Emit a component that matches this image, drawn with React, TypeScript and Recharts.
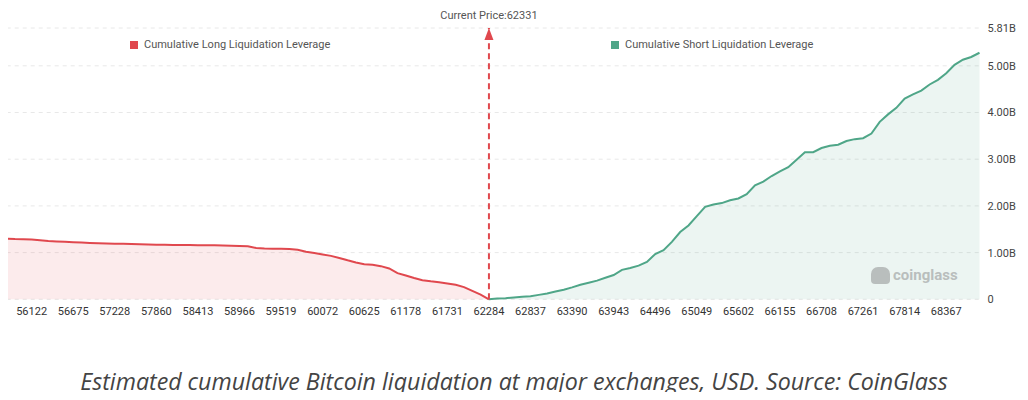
import { Area, AreaChart, CartesianGrid, ReferenceLine, XAxis, YAxis } from "recharts";

// cumulative liquidation leverage, in billions of USD
const longValues = [
  1.3, 1.29, 1.285, 1.28, 1.265, 1.25, 1.24, 1.23, 1.222, 1.215, 1.207, 1.2, 1.195, 1.19, 1.187,
  1.184, 1.18, 1.173, 1.168, 1.166, 1.164, 1.163, 1.161, 1.159, 1.157, 1.156, 1.152, 1.148, 1.143,
  1.135, 1.1, 1.09, 1.085, 1.08, 1.075, 1.06, 1.02, 0.99, 0.96, 0.93, 0.885, 0.835, 0.79, 0.75,
  0.74, 0.71, 0.66, 0.56, 0.51, 0.455, 0.41, 0.385, 0.365, 0.34, 0.31, 0.26, 0.18, 0.1, 0,
];

const shortValues = [
  0, 0.015, 0.025, 0.04, 0.055, 0.067, 0.095, 0.125, 0.165, 0.205, 0.255, 0.31, 0.355, 0.4, 0.46,
  0.52, 0.63, 0.67, 0.72, 0.8, 0.97, 1.05, 1.23, 1.44, 1.58, 1.78, 1.98, 2.03, 2.06, 2.12, 2.16,
  2.25, 2.44, 2.52, 2.64, 2.74, 2.83, 2.99, 3.15, 3.15, 3.24, 3.29, 3.31, 3.39, 3.43, 3.45, 3.55,
  3.8, 3.96, 4.1, 4.3, 4.39, 4.47, 4.6, 4.7, 4.84, 5.02, 5.13, 5.19, 5.28,
];

const priceTicks = [
  "56122", "56675", "57228", "57860", "58413", "58966", "59519", "60072", "60625", "61178",
  "61731", "62284", "62837", "63390", "63943", "64496", "65049", "65602", "66155", "66708",
  "67261", "67814", "68367",
];

const yTicks = [0, 1, 2, 3, 4, 5, 5.81];
const currentPrice = 62331;

const RED = "#e0484e";
const GREEN = "#4fa688";
const FONT = "Roboto, sans-serif";

// the short side starts where the long side ends (at the current price)
const splitIndex = longValues.length - 1;
const total = splitIndex + shortValues.length;
const firstTick = 3;
const tickStep = 5;

const data = Array.from({ length: total }, (_, i) => ({
  idx: i,
  long: i <= splitIndex ? longValues[i] : null,
  short: i >= splitIndex ? shortValues[i - splitIndex] : null,
}));

const tickLabel = (i: number) => {
  const k = i - firstTick;
  if (k < 0 || k % tickStep !== 0) return "";
  return priceTicks[k / tickStep] ?? "";
};

function PriceLabel({ viewBox }: any) {
  const { x, y } = viewBox;
  return (
    <g>
      <text x={x} y={y - 9} textAnchor="middle" fontSize={11} fill="#555" fontFamily={FONT}>
        {`Current Price:${currentPrice}`}
      </text>
      <polygon points={`${x},${y} ${x - 4.5},${y + 12} ${x + 4.5},${y + 12}`} fill={RED} />
    </g>
  );
}

function LegendItem({ color, text, left }: { color: string; text: string; left: number }) {
  return (
    <div
      style={{
        position: "absolute",
        left,
        top: 38,
        display: "flex",
        alignItems: "center",
        fontSize: 11,
        color: "#555",
        fontFamily: FONT,
      }}
    >
      <span style={{ width: 8, height: 8, background: color, marginRight: 6 }} />
      {text}
    </div>
  );
}

export default function App() {
  return (
    <div
      style={{
        position: "relative",
        width: 1028,
        height: 400,
        margin: -8,
        background: "#fff",
        overflow: "hidden",
      }}
    >
      <AreaChart
        width={1028}
        height={330}
        data={data}
        margin={{ top: 28, right: 8.5, left: 6.7, bottom: 0.7 }}
      >
        <CartesianGrid vertical={false} stroke="#e8e8e8" strokeDasharray="4 4" />
        <XAxis
          dataKey="idx"
          scale="point"
          interval={0}
          height={30}
          axisLine={false}
          tickLine={false}
          tickFormatter={tickLabel}
          tick={{ fontSize: 11, fill: "#333", fontFamily: FONT }}
        />
        <YAxis
          orientation="right"
          width={40}
          domain={[0, 5.81]}
          ticks={yTicks}
          interval={0}
          axisLine={false}
          tickLine={false}
          tickFormatter={(v: number) => (v === 0 ? "0" : `${v.toFixed(2)}B`)}
          tick={{ fontSize: 11, fill: "#444", fontFamily: FONT }}
        />
        <Area
          dataKey="long"
          type="linear"
          stroke={RED}
          strokeWidth={2}
          fill={RED}
          fillOpacity={0.11}
          dot={false}
          activeDot={false}
          isAnimationActive={false}
        />
        <Area
          dataKey="short"
          type="linear"
          stroke={GREEN}
          strokeWidth={2}
          fill={GREEN}
          fillOpacity={0.11}
          dot={false}
          activeDot={false}
          isAnimationActive={false}
        />
        <ReferenceLine
          x={splitIndex}
          stroke={RED}
          strokeWidth={2}
          strokeDasharray="6 4"
          label={<PriceLabel />}
        />
      </AreaChart>

      <LegendItem color={RED} text="Cumulative Long Liquidation Leverage" left={130} />
      <LegendItem color={GREEN} text="Cumulative Short Liquidation Leverage" left={611} />

      <div
        style={{
          position: "absolute",
          left: 871,
          top: 266,
          display: "flex",
          alignItems: "center",
          color: "#b9bebd",
          fontFamily: FONT,
          fontWeight: 700,
          fontSize: 15,
        }}
      >
        <span
          style={{
            width: 19,
            height: 17,
            background: "#b9bebd",
            borderRadius: "7px 7px 4px 4px",
            marginRight: 3,
          }}
        />
        coinglass
      </div>

      <div
        style={{
          position: "absolute",
          left: 0,
          top: 367,
          width: 1028,
          textAlign: "center",
          fontFamily: "'Open Sans', sans-serif",
          fontStyle: "italic",
          fontSize: 23.2,
          lineHeight: "28px",
          color: "#444",
        }}
      >
        Estimated cumulative Bitcoin liquidation at major exchanges, USD. Source: CoinGlass
      </div>
    </div>
  );
}
